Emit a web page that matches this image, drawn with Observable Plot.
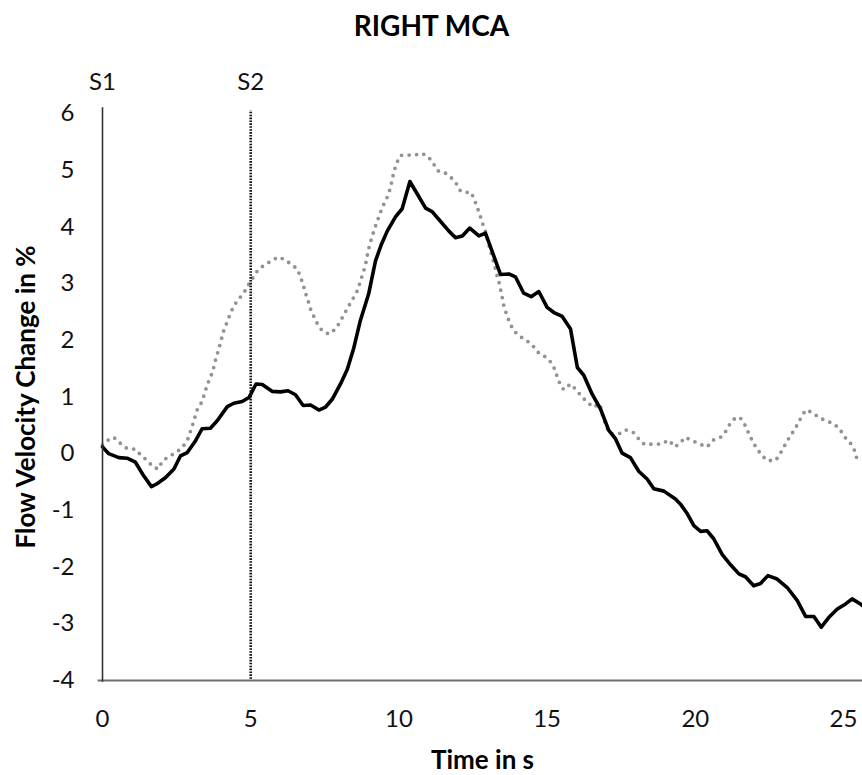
<!DOCTYPE html>
<html><head><meta charset="utf-8">
<script src="https://cdn.jsdelivr.net/npm/d3@7"></script>
<script src="https://cdn.jsdelivr.net/npm/@observablehq/plot@0.6"></script>
<style>body{margin:0;background:#fff} svg{display:block}</style>
</head><body><div id="chart"></div>
<script>
const title = "RIGHT MCA";
const xLabel = "Time in s";
const yLabel = "Flow Velocity Change in %";
const xTicks = [0, 5, 10, 15, 20, 25];
const yTicks = [-4, -3, -2, -1, 0, 1, 2, 3, 4, 5, 6];
const stimT = [0, 5];
const stimLabels = ["S1", "S2"];

const solidT = [0,0.21,0.55,0.83,1.11,1.39,1.65,1.84,2.13,2.41,2.63,2.86,3.14,3.36,3.64,3.87,4.21,4.43,4.71,4.94,5.18,5.39,5.72,6.0,6.26,6.51,6.77,7.02,7.3,7.52,7.75,8.03,8.26,8.48,8.7,8.98,9.21,9.4,9.61,9.89,10.11,10.37,10.62,10.9,11.12,11.4,11.68,11.91,12.14,12.39,12.7,12.92,13.2,13.43,13.71,13.93,14.21,14.46,14.72,15.0,15.23,15.51,15.79,16.02,16.24,16.52,16.8,17.08,17.31,17.53,17.81,18.09,18.38,18.6,18.94,19.33,19.5,19.73,19.95,20.18,20.4,20.62,20.91,21.19,21.47,21.69,21.97,22.2,22.45,22.76,23.1,23.44,23.72,24.0,24.25,24.5,24.79,25.07,25.29,25.57,25.64];
const solidV = [0.12,0.0,-0.07,-0.08,-0.15,-0.39,-0.58,-0.53,-0.42,-0.27,-0.04,0.02,0.23,0.44,0.45,0.58,0.83,0.89,0.92,0.99,1.23,1.22,1.1,1.09,1.11,1.04,0.85,0.86,0.77,0.82,0.96,1.23,1.49,1.87,2.35,2.82,3.4,3.68,3.93,4.18,4.32,4.8,4.58,4.33,4.27,4.1,3.93,3.81,3.84,3.98,3.84,3.89,3.49,3.16,3.17,3.12,2.83,2.77,2.86,2.58,2.49,2.42,2.2,1.52,1.38,1.05,0.79,0.41,0.26,0.01,-0.07,-0.31,-0.45,-0.62,-0.66,-0.8,-0.89,-1.06,-1.27,-1.37,-1.36,-1.5,-1.78,-1.96,-2.12,-2.17,-2.33,-2.29,-2.15,-2.21,-2.36,-2.59,-2.87,-2.87,-3.06,-2.89,-2.74,-2.65,-2.56,-2.65,-2.68];

const dottedT = [0,0.19,0.38,0.61,0.83,1.11,1.32,1.51,1.7,1.88,2.01,2.22,2.46,2.69,2.86,3.03,3.19,3.36,3.53,3.72,3.79,3.94,4.09,4.26,4.43,4.6,4.77,4.95,5.22,5.45,5.67,5.92,6.12,6.37,6.57,6.68,6.77,6.85,6.94,7.02,7.13,7.26,7.41,7.64,7.86,8.01,8.14,8.28,8.42,8.57,8.67,8.76,8.84,8.91,8.95,9.02,9.2,9.38,9.49,9.63,9.72,9.77,9.83,9.92,10.05,10.26,10.5,10.76,10.99,11.16,11.31,11.54,11.76,11.94,12.08,12.28,12.44,12.56,12.66,12.75,12.83,12.92,13.0,13.07,13.15,13.23,13.29,13.37,13.45,13.54,13.63,13.73,13.86,14.05,14.27,14.5,14.66,14.89,15.09,15.26,15.34,15.45,15.56,15.79,15.96,16.15,16.35,16.56,16.78,16.86,16.97,17.08,17.23,17.42,17.65,17.9,18.09,18.29,18.58,18.85,19.11,19.3,19.48,19.65,19.9,20.15,20.4,20.6,20.85,21.02,21.16,21.36,21.52,21.67,21.8,21.92,22.06,22.23,22.42,22.71,22.85,22.99,23.13,23.29,23.44,23.57,23.72,23.94,24.17,24.41,24.67,24.88,25.03,25.24,25.37,25.44,25.55];
const dottedV = [0.15,0.24,0.29,0.18,0.09,0.08,-0.04,-0.12,-0.23,-0.27,-0.14,-0.05,0.01,0.11,0.23,0.49,0.77,0.92,1.21,1.45,1.61,1.88,2.17,2.4,2.61,2.73,2.84,3.0,3.22,3.33,3.39,3.47,3.43,3.34,3.26,3.12,2.98,2.83,2.69,2.55,2.42,2.28,2.17,2.11,2.2,2.32,2.45,2.58,2.71,2.84,2.99,3.14,3.27,3.42,3.55,3.7,4.0,4.26,4.4,4.55,4.7,4.83,4.97,5.12,5.26,5.27,5.26,5.3,5.24,5.12,4.99,4.96,4.87,4.76,4.63,4.61,4.61,4.46,4.32,4.18,4.05,3.92,3.76,3.61,3.46,3.32,3.18,3.04,2.85,2.61,2.46,2.32,2.18,2.08,2.01,1.92,1.8,1.73,1.64,1.49,1.36,1.21,1.13,1.23,1.14,1.02,0.91,0.82,0.88,0.7,0.52,0.38,0.34,0.35,0.42,0.38,0.26,0.16,0.17,0.17,0.24,0.12,0.18,0.29,0.23,0.17,0.12,0.24,0.29,0.39,0.52,0.64,0.63,0.51,0.36,0.23,0.1,-0.02,-0.12,-0.12,-0.01,0.12,0.25,0.38,0.51,0.64,0.77,0.73,0.64,0.58,0.53,0.43,0.3,0.18,0.06,-0.07,-0.14];

const solid = solidT.map((t, i) => ({t, v: solidV[i]}));
const dotted = dottedT.map((t, i) => ({t, v: dottedV[i]}));
const stims = stimT.map((t, i) => ({t, label: stimLabels[i]}));

const chart = Plot.plot({
  width: 862,
  height: 775,
  marginTop: 113,
  marginBottom: 95,
  marginLeft: 102,
  marginRight: 0,
  style: {fontFamily: "Lato, 'Open Sans', sans-serif", fontSize: "24px", color: "#111", background: "#fff"},
  x: {domain: [0, 25.64]},
  y: {domain: [-4, 6]},
  marks: [
    Plot.axisY({ticks: yTicks, tickSize: 0, tickPadding: 28, tickFormat: d => String(d), label: null, fontSize: 24}),
    Plot.axisX({ticks: xTicks, tickSize: 0, tickPadding: 29, tickFormat: d => String(d), label: null, fontSize: 24}),
    Plot.ruleY([-4], {x1: -0.15, x2: 25.64, stroke: "#6e6e6e", strokeWidth: 2}),
    Plot.line(dotted, {x: "t", y: "v", stroke: "#929292", strokeWidth: 3.8, strokeDasharray: "0 7.6", strokeLinecap: "round", strokeLinejoin: "round"}),
    Plot.line(solid, {x: "t", y: "v", stroke: "#000", strokeWidth: 3.6, strokeLinejoin: "round", strokeLinecap: "round"}),
    Plot.ruleX(stims.filter(d => d.label === "S1"), {x: "t", y1: -4.03, y2: 6.1, stroke: "#333", strokeWidth: 1.6}),
    Plot.ruleX(stims.filter(d => d.label === "S2"), {x: "t", y1: -3.98, y2: 6.05, stroke: "#111", strokeWidth: 2.6, strokeDasharray: "1.6 1.3"}),
    Plot.text(stims, {x: "t", text: "label", frameAnchor: "top", dy: -41, fontSize: 24, fill: "#111"}),
    Plot.text([title], {frameAnchor: "top-left", dx: 329, dy: -97, textAnchor: "middle", fontSize: 28, fontWeight: "bold", fill: "#000"}),
    Plot.text([yLabel], {frameAnchor: "left", dx: -76, rotate: -90, textAnchor: "middle", fontSize: 26, fontWeight: "bold", fill: "#000"}),
    Plot.text([xLabel], {frameAnchor: "bottom", dy: 88, textAnchor: "middle", fontSize: 26, fontWeight: "bold", fill: "#000"})
  ]
});
document.getElementById("chart").appendChild(chart);
</script>
</body></html>
